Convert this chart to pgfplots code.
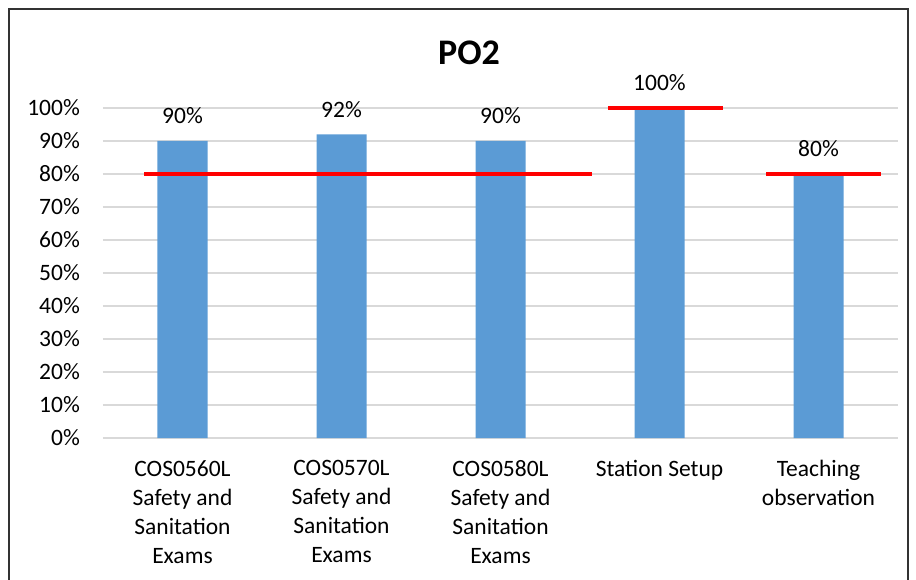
\documentclass[border=0pt]{standalone}
\usepackage{pgfplots}
\pgfplotsset{compat=1.18}
\usepackage{fontspec}
\setmainfont{Carlito}
\definecolor{barblue}{HTML}{5B9BD5}
\definecolor{gridgray}{HTML}{D9D9D9}
\begin{document}
\begin{tikzpicture}
% fix the page to the reference size, measured from the plot area's lower-left corner
\path[use as bounding box] (-103bp,-142bp) rectangle (813bp,438bp);
\draw[line width=1.5bp, black!80] (-94bp,-160bp) -- (-94bp,429bp) -- (805bp,429bp) -- (805bp,-160bp);
\node[font=\fontsize{36bp}{40bp}\selectfont\bfseries, anchor=base, inner sep=0pt] at (366bp,373bp) {PO2};
\begin{axis}[
  at={(0,0)}, anchor=south west,
  scale only axis, width=795bp, height=330bp,
  xmin=-0.5, xmax=4.5, ymin=0, ymax=100,
  clip=false,
  axis line style={draw=none},
  tick style={draw=none},
  ymajorgrids, grid style={gridgray, line width=1.5bp},
  ytick={0,10,...,100},
  yticklabels={0\%,10\%,20\%,30\%,40\%,50\%,60\%,70\%,80\%,90\%,100\%},
  yticklabel style={font=\fontsize{23.5bp}{29bp}\selectfont, anchor=east, inner sep=0pt, xshift=-23bp},
  xtick={0,1,2,3,4},
  xticklabels={{COS0560L\\Safety and\\Sanitation\\Exams},{COS0570L\\Safety and\\Sanitation\\Exams},{COS0580L\\Safety and\\Sanitation\\Exams},{Station Setup},{Teaching\\observation}},
  xticklabel style={font=\fontsize{23.5bp}{29bp}\selectfont, align=center, anchor=north, inner sep=0pt, yshift=-22bp},
  /pgf/number format/assume math mode=true,
]
\addplot[ybar, bar width=50bp, fill=barblue, draw=none,
  nodes near coords={\pgfmathprintnumber{\pgfplotspointmeta}\%},
  every node near coord/.style={font=\fontsize{23.5bp}{29bp}\selectfont, anchor=base, inner sep=0pt, yshift=17bp, black}]
coordinates {(0,90) (1,92) (2,90) (3,100) (4,80)};
\addplot[red, line width=4bp, forget plot] coordinates {(-0.242,80) (2.575,80)};
\addplot[red, line width=4bp, forget plot] coordinates {(2.676,100) (3.40,100)};
\addplot[red, line width=4bp, forget plot] coordinates {(3.67,80) (4.39,80)};
\end{axis}
\end{tikzpicture}
\end{document}
